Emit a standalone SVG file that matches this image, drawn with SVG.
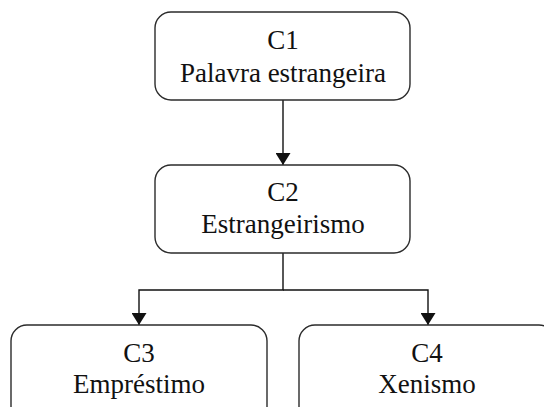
<svg xmlns="http://www.w3.org/2000/svg" width="544" height="407" viewBox="0 0 544 407">
<style>
.box{fill:#fff;stroke:#2b2b2b;stroke-width:1.4}
.t{font-family:"Liberation Serif","Times New Roman",serif;font-size:27px;fill:#111;text-anchor:middle}
.c{fill:none;stroke:#111;stroke-width:1.4}
</style>
<defs>
<marker id="ah" markerWidth="12" markerHeight="15" refX="12" refY="7.5" orient="auto" markerUnits="userSpaceOnUse">
<path d="M0,0 L12,7.5 L0,15 Z" fill="#111"/>
</marker>
</defs>
<rect width="544" height="407" fill="#fff"/>
<g id="connectors">
<path class="c" d="M283,100 V165" marker-end="url(#ah)"/>
<path class="c" d="M283,253 V290 H139 V325" marker-end="url(#ah)"/>
<path class="c" d="M283,290 H428 V325" marker-end="url(#ah)"/>
</g>
<g id="c1">
<rect class="box" x="155" y="12" width="255" height="88" rx="16"/>
<text class="t" x="283" y="49">C1</text>
<text class="t" x="283" y="82">Palavra estrangeira</text>
</g>
<g id="c2">
<rect class="box" x="155" y="165" width="255" height="88" rx="16"/>
<text class="t" x="283" y="201">C2</text>
<text class="t" x="283" y="233">Estrangeirismo</text>
</g>
<g id="c3">
<rect class="box" x="11" y="325" width="256" height="100" rx="16"/>
<text class="t" x="139" y="362">C3</text>
<text class="t" x="139" y="393">Empréstimo</text>
</g>
<g id="c4">
<rect class="box" x="299" y="325" width="256" height="100" rx="16"/>
<text class="t" x="427" y="362">C4</text>
<text class="t" x="427" y="393">Xenismo</text>
</g>
</svg>
